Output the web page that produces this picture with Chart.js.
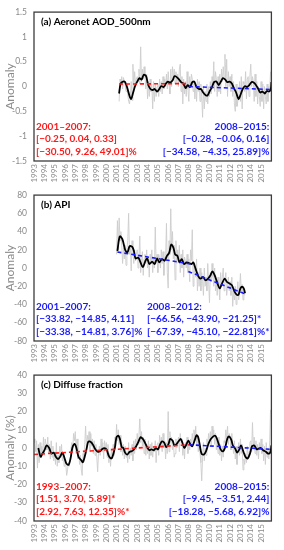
<!DOCTYPE html>
<html>
<head>
<meta charset="utf-8">
<script src="https://cdn.jsdelivr.net/npm/chart.js@4.4.1/dist/chart.umd.min.js"></script>
<style>
  html, body { margin: 0; padding: 0; background: #fff; }
  #wrap { position: relative; width: 284px; height: 550px; overflow: hidden; }
  canvas { position: absolute; left: 0; }
</style>
</head>
<body>
<div id="wrap">
  <canvas id="chartA" width="284" height="186" style="top:0"></canvas>
  <canvas id="chartB" width="284" height="183" style="top:183px"></canvas>
  <canvas id="chartC" width="284" height="183" style="top:363px"></canvas>
</div>
<script>
'use strict';

/* ---- data: (a) Aeronet AOD 500nm ---- */
const aRawStart = 2001.25; // monthly, Apr 2001 .. Dec 2015
const aRaw = [
  -0.30, 0.15, 0.05, 0.20, -0.05, 0.18, 0.10, 0.02, -0.10,
  0.05, -0.15, -0.30, -0.35, -0.20, 0.10, -0.28, 0.45, -0.05, 0.30, 0.05, 0.15,
  0.20, 0.10, 0.35, 0.05, 0.80, 0.10, 0.35, 0.15, 0.40, 0.20, -0.05, 0.25,
  -0.25, 0.10, -0.20, 0.15, -0.10, 0.05, -0.45, 0.10, -0.30, 0.05, -0.20, 0.00,
  0.05, -0.20, 0.15, -0.10, 0.10, -0.15, 0.20, -0.05, 0.15, 0.00, 0.25, -0.05,
  0.30, 0.05, -0.15, 0.35, 0.00, 0.40, 0.15, 0.35, 0.05, 0.30, 0.10, 0.25,
  0.00, 0.35, 0.45, -0.10, 0.20, -0.35, 0.15, -0.15, 0.10, -0.20, 0.30, -0.05,
  -0.30, 0.20, 0.00, 0.25, 0.15, -0.10, 0.10, -0.25, 0.05, -0.30, 0.15, -0.10,
  0.10, -0.30, 0.05, -0.20, -0.62, 0.00, -0.45, -0.10, -0.30, 0.05, -0.35, 0.00,
  -0.20, 0.10, -0.15, 0.20, 0.05, 0.50, -0.10, 0.30, 0.15, -0.20, 0.20, -0.10,
  0.25, -0.15, 0.35, 0.10, 0.40, 0.15, 0.65, 0.00, 0.55, -0.20, 0.30, 0.00,
  0.20, -0.10, 0.25, -0.20, 0.10, -0.35, -0.50, 0.05, -0.40, -0.30, -0.20, 0.10,
  -0.30, 0.20, -0.45, 0.10, 0.05, -0.10, 0.30, -0.25, 0.15, 0.20, -0.20, 0.20,
  0.45, 0.00, 0.20, 0.10, -0.30, 0.25, -0.20, 0.10, -0.35, 0.00, -0.20, -0.40,
  0.10, -0.30, 0.05, -0.45, 0.00, -0.20, -0.35, 0.05, -0.30, 0.00, -0.10, 0.30
];
const aSmoothX = [2001.24,2001.40,2001.63,2001.82,2002.04,2002.27,2002.42,2002.58,2002.78,2003.00,2003.22,2003.42,2003.64,2003.86,2004.05,2004.28,2004.50,2004.69,2004.92,2005.14,2005.33,2005.56,2005.78,2005.97,2006.19,2006.42,2006.61,2006.83,2007.06,2007.25,2007.47,2007.70,2007.89,2008.11,2008.34,2008.53,2008.75,2008.97,2009.17,2009.39,2009.61,2009.81,2010.03,2010.25,2010.44,2010.67,2010.89,2011.08,2011.31,2011.53,2011.72,2011.95,2012.17,2012.36,2012.58,2012.81,2013.00,2013.22,2013.45,2013.64,2013.86,2014.09,2014.28,2014.50,2014.73,2014.92,2015.14,2015.36,2015.56,2015.78,2015.94,2016.00];
const aSmoothY = [-0.14,0.06,0.10,0.09,-0.03,-0.20,-0.25,-0.14,0.00,0.10,0.17,0.14,0.24,0.21,0.04,-0.05,-0.07,-0.05,-0.10,-0.05,0.01,-0.01,0.06,0.10,0.08,0.12,0.21,0.19,0.14,0.09,0.06,-0.03,0.03,-0.01,0.09,0.10,-0.01,-0.05,-0.05,-0.12,-0.17,-0.18,-0.09,-0.01,0.09,0.10,0.03,0.09,0.17,0.14,0.09,0.10,0.06,-0.03,-0.12,-0.25,-0.17,-0.05,0.01,-0.01,0.03,0.09,0.08,0.03,-0.05,-0.12,-0.10,-0.14,-0.09,-0.10,-0.05,0.09];
const aTrend1X = [2001.24, 2008.0], aTrend1Y = [0.05, 0.06];
const aTrend2X = [2008.0, 2016.0], aTrend2Y = [0.00, -0.06];
const aTicks = [-1.5, -1, -0.5, 0, 0.5, 1, 1.5];

/* ---- data: (b) API ---- */
const bRawStart = 2001.0; // monthly, Jan 2001 .. Jun 2013
const bRaw = [
  15, 52, 20, 55, 30, 40, 25, 5, 22, 10, 25, 3,
  20, 30, 60, 15, 25, -3, 30, 18, 5, 20, 8, 15,
  20, 0, 12, 35, -5, 8, 18, -8, 10, 15, 5, 20,
  0, 12, -10, 15, 5, 20, -5, 10, 0, 45, 5, 15,
  -5, 15, 10, 0, 20, 5, 18, -8, 12, 10, 49, -5,
  -22, 30, 15, 65, 20, 40, 10, 25, -13, 30, 5, 20,
  10, 25, -5, 15, 0, 20, -10, 12, 8, 0, 15, -5,
  10, -15, 20, 8, 42, -20, 5, -5, -10, 10, -25, -5,
  -20, 0, -25, -5, -15, -30, 0, -20, -10, -25, 5, -15,
  -38, -5, -15, 5, -10, -20, 0, -25, -15, -30, -10, -20,
  -35, -5, -20, -10, 0, -25, -15, -5, -30, -20, -10, -25,
  -15, -30, -10, -42, -25, -35, -20, -40, -30, -15, -35, -25,
  -6, -25, -18, -35, -25, -30
];
const bSmoothX = [2001.08,2001.31,2001.56,2001.82,2002.04,2002.27,2002.52,2002.68,2002.84,2003.10,2003.32,2003.54,2003.80,2003.96,2004.18,2004.44,2004.69,2004.92,2005.14,2005.40,2005.65,2005.88,2006.10,2006.29,2006.51,2006.67,2006.90,2007.09,2007.31,2007.54,2007.79,2008.02,2008.27,2008.43,2008.66,2008.91,2009.13,2009.39,2009.61,2009.87,2010.09,2010.28,2010.51,2010.73,2010.99,2011.21,2011.47,2011.69,2011.95,2012.17,2012.43,2012.65,2012.81,2013.00,2013.16,2013.32,2013.45];
const bSmoothY = [18.7,34.7,31.8,20.4,16.9,24.0,23.3,18.7,10.5,11.5,6.2,0.9,8.0,10.5,4.4,6.9,4.4,10.5,6.2,9.8,8.0,13.3,16.9,25.8,22.2,15.1,13.3,6.2,9.8,4.4,6.2,5.5,4.4,6.2,-0.9,-8.8,-11.6,-9.8,-13.4,-11.6,-8.0,-3.8,-8.0,-15.2,-22.3,-17.0,-11.6,-15.2,-17.0,-18.7,-25.9,-29.4,-29.4,-22.3,-20.5,-22.3,-27.6];
const bTrend1X = [2001.08, 2008.2], bTrend1Y = [17.6, 4.4];
const bTrend2X = [2007.95, 2013.45], bTrend2Y = [-3.8, -28.3];
const bTicks = [-80, -60, -40, -20, 0, 20, 40, 60, 80];

/* ---- data: (c) Diffuse fraction ---- */
const cRawStart = 1993.0; // monthly, Jan 1993 .. Dec 2015
const cRaw = [
  5, 3, -2, 4, -11, 2, -8, 3, -5, 1, -3, 6,
  -4, 5, 2, -1, 6, -3, 2, -6, 4, -5, 1, -7,
  -2, -9, 3, -10, -4, -8, 1, -5, 2, -7, -3, -10,
  -6, -9, -15, -12, -8, -10, -5, 0, 3, -2, 8, 4,
  9, -3, 5, -6, -2, -9, -4, -12, -15, -3, -6, 2,
  12, 0, 7, 3, 9, -2, 8, 1, 5, -3, 4, -4,
  2, -5, -13, -3, 1, -4, 5, -2, 3, -6, 4, -1,
  3, -5, 2, -8, -3, -10, -1, -6, 2, -4, 6, 1,
  13, 4, 10, 2, 7, -2, 3, -4, 2, -6, 1, -5,
  -2, -8, 3, -6, 0, -4, 2, -7, 4, -3, 5, -1,
  8, 2, 7, 16, 3, 9, 1, 6, -3, 5, -4, 2,
  -3, 4, -6, 2, -4, 3, -5, 1, -2, 4, -8, 2,
  3, -4, 7, 1, 6, -2, 8, 0, 4, -6, 3, -3,
  20, -2, 9, 3, 6, -1, 4, -5, -3, 5, 0, 3,
  6, -2, 8, 3, 5, -4, 2, -6, 3, 1, 6, -3,
  4, -1, 5, 2, 8, 3, 10, 4, 12, 2, 6, -2,
  2, -3, -8, -18, -5, 3, -7, 0, -4, 5, 2, 8,
  3, 9, 1, 12, 6, 10, 2, 8, -1, 4, -3, 6,
  -4, 2, -7, 1, -5, 4, 3, 10, 5, 12, 2, 8,
  6, -1, 8, 2, -3, 4, -6, 1, -9, -2, 3, -4,
  5, -3, 2, -12, -6, -9, -3, -8, 1, -5, -2, 3,
  4, -2, 14, 0, 6, -3, 4, -4, 2, -6, 3, -1,
  5, -3, 2, -7, 1, -9, 3, -5, 0, -6, 4, 21
];
const cSmoothX = [1993.42,1993.64,1993.83,1994.05,1994.21,1994.47,1994.69,1994.92,1995.11,1995.33,1995.56,1995.75,1995.97,1996.13,1996.35,1996.55,1996.71,1996.93,1997.09,1997.31,1997.57,1997.73,1997.95,1998.11,1998.27,1998.53,1998.75,1998.94,1999.17,1999.39,1999.58,1999.81,2000.03,2000.22,2000.44,2000.60,2000.83,2000.99,2001.18,2001.34,2001.50,2001.66,2001.82,2002.04,2002.27,2002.46,2002.68,2002.90,2003.10,2003.32,2003.54,2003.73,2003.96,2004.18,2004.37,2004.60,2004.82,2005.01,2005.24,2005.40,2005.62,2005.81,2006.04,2006.19,2006.42,2006.61,2006.83,2006.99,2007.22,2007.41,2007.57,2007.79,2007.95,2008.18,2008.34,2008.59,2008.75,2008.91,2009.07,2009.23,2009.45,2009.65,2009.87,2010.09,2010.28,2010.51,2010.67,2010.89,2011.08,2011.31,2011.53,2011.72,2011.88,2012.11,2012.27,2012.49,2012.68,2012.90,2013.06,2013.29,2013.48,2013.70,2013.93,2014.12,2014.34,2014.57,2014.76,2014.98,2015.20,2015.46,2015.68,2015.88,2016.00];
const cSmoothY = [0,-4.8,-3,-0.7,1.4,0,-3,-2.5,-4.8,-6,-4.5,-2.5,-5.7,-8.4,-9.2,-5.5,0,2.3,0.5,-4.8,-6.6,-7.8,-4,0,3.6,3.2,1.4,-0.7,-2,-1.8,-0.7,0,-0.7,-4,-5.7,-4.8,0,5.9,6.8,4.6,0.5,0,-2.5,-3.6,-2,-1.8,-0.7,1,3.2,5.9,5,3.2,0.5,-1.2,-0.7,-1.2,0,-0.7,2.3,3.6,2.9,0.5,2.3,5,4.1,1.4,2.3,3.6,5,2.3,0,2.3,4.1,1.8,1,4.6,7,5.9,1.4,-3,-3.6,-2,1.8,4.6,5.9,6.8,5.9,2.3,-0.7,-1.8,0.5,5,6.4,4.6,1.4,-0.3,-2.5,-0.7,1.4,-2,-4.8,-5.7,-3,1,1.4,-0.7,-0.3,0,-1.2,-2,-3,-2.5,1.4];
const cTrend1X = [1993.0, 2008.0], cTrend1Y = [-3.5, 1.8];
const cTrend2X = [2008.0, 2016.0], cTrend2Y = [1.8, -0.7];
const cTicks = [-40, -30, -20, -10, 0, 10, 20, 30, 40];

const yearFirst = 1993, yearLast = 2016;

/* ---- styles ---- */
const RED = '#ff1a1a';
const BLUE = '#1a1aff';
const GREY_LINE = '#cdcdcd';
const AXIS_GREY = '#8a8a8a';
const FONT = "Lato, 'Open Sans', sans-serif";

function monthly(start, vals) {
  return vals.map((v, i) => ({ x: start + i / 12, y: v }));
}
function pairs(xs, ys) {
  const n = Math.min(xs.length, ys.length);
  const out = [];
  for (let i = 0; i < n; i++) out.push({ x: xs[i], y: ys[i] });
  return out;
}

/* frame box, panel title and the trend notes */
const framePlugin = {
  id: 'frame',
  afterDraw(chart, args, opts) {
    const { ctx, chartArea: a } = chart;
    ctx.save();
    ctx.strokeStyle = '#3c3c3c';
    ctx.lineWidth = 1.3;
    ctx.strokeRect(a.left, a.top, a.right - a.left, a.bottom - a.top);

    ctx.textBaseline = 'middle';
    ctx.font = 'bold 10px ' + FONT;
    ctx.fillStyle = '#000';
    ctx.textAlign = 'left';
    ctx.fillText(opts.title, a.left + 7, a.top + 10);

    const lh = 12.5;
    (opts.notes || []).forEach(n => {
      ctx.fillStyle = n.color;
      const last = a.bottom - 9.5;
      let x, align = n.align;
      if (align === 'left') x = a.left + 2;
      else if (align === 'right') x = a.right - 2;
      else { // block: right edge at frame, lines left-aligned
        const w = Math.max(...n.lines.map(t => ctx.measureText(t).width));
        x = a.right - 2 - w;
        align = 'left';
      }
      ctx.textAlign = align;
      n.lines.forEach((t, i) => {
        ctx.fillText(t, x, last - (n.lines.length - 1 - i) * lh);
      });
    });
    ctx.restore();
  }
};

function makeChart(id, cfg) {
  const ctx = document.getElementById(id).getContext('2d');
  return new Chart(ctx, {
    type: 'line',
    data: {
      datasets: [
        { data: pairs(cfg.t1x, cfg.t1y), borderColor: cfg.t1c, borderWidth: 1.6, borderDash: [4, 3], order: 0 },
        { data: pairs(cfg.t2x, cfg.t2y), borderColor: cfg.t2c, borderWidth: 1.6, borderDash: [4, 3], order: 0 },
        { data: pairs(cfg.sx, cfg.sy), borderColor: '#000', borderWidth: 1.8, tension: 0.3, order: 1 },
        { data: monthly(cfg.rawStart, cfg.raw), borderColor: GREY_LINE, borderWidth: 0.9, tension: 0, order: 2 },
      ],
    },
    options: {
      responsive: false,
      animation: false,
      events: [],
      layout: { padding: { top: 8, right: 10, left: 0, bottom: 0 } },
      elements: { point: { radius: 0 }, line: { fill: false } },
      plugins: {
        legend: { display: false },
        tooltip: { enabled: false },
        frame: { title: cfg.title, notes: cfg.notes },
      },
      scales: {
        x: {
          type: 'linear',
          min: yearFirst,
          max: yearLast,
          grid: { display: false, drawTicks: false },
          border: { display: false },
          afterFit: s => { s.height = 25; },
          ticks: {
            stepSize: 1,
            autoSkip: false,
            minRotation: 90,
            maxRotation: 90,
            padding: 3,
            color: AXIS_GREY,
            font: { family: FONT, size: 8 },
            callback: v => (v < yearLast ? String(v) : ''),
          },
        },
        y: {
          min: cfg.ticks[0],
          max: cfg.ticks[cfg.ticks.length - 1],
          grid: { display: false, drawTicks: false },
          border: { display: false },
          afterFit: s => { s.width = 34; },
          afterBuildTicks: s => { s.ticks = cfg.ticks.map(v => ({ value: v })); },
          title: {
            display: true,
            text: cfg.yTitle,
            color: AXIS_GREY,
            font: { family: FONT, size: 12 },
            padding: { top: 3, bottom: 0 },
          },
          ticks: {
            padding: 7,
            color: AXIS_GREY,
            font: { family: FONT, size: 8.5 },
            callback: v => String(v),
          },
        },
      },
    },
    plugins: [framePlugin],
  });
}

makeChart('chartA', {
  title: '(a) Aeronet AOD_500nm',
  yTitle: 'Anomaly',
  ticks: aTicks,
  raw: aRaw, rawStart: aRawStart,
  sx: aSmoothX, sy: aSmoothY,
  t1x: aTrend1X, t1y: aTrend1Y, t1c: RED,
  t2x: aTrend2X, t2y: aTrend2Y, t2c: BLUE,
  notes: [
    { color: RED, align: 'left', lines: ['2001\u20132007:', '[\u22120.25, 0.04, 0.33]', '[\u221230.50, 9.26, 49.01]%'] },
    { color: BLUE, align: 'right', lines: ['2008\u20132015:', '[\u22120.28, \u22120.06, 0.16]', '[\u221234.58, \u22124.35, 25.89]%'] },
  ],
});

makeChart('chartB', {
  title: '(b) API',
  yTitle: 'Anomaly',
  ticks: bTicks,
  raw: bRaw, rawStart: bRawStart,
  sx: bSmoothX, sy: bSmoothY,
  t1x: bTrend1X, t1y: bTrend1Y, t1c: BLUE,
  t2x: bTrend2X, t2y: bTrend2Y, t2c: BLUE,
  notes: [
    { color: BLUE, align: 'left', lines: ['2001\u20132007:', '[\u221233.82, \u221214.85, 4.11]', '[\u221233.38, \u221214.81, 3.76]%'] },
    { color: BLUE, align: 'block', lines: ['2008\u20132012:', '[\u221266.56, \u221243.90, \u221221.25]*', '[\u221267.39, \u221245.10, \u221222.81]%*'] },
  ],
});

makeChart('chartC', {
  title: '(c) Diffuse fraction',
  yTitle: 'Anomaly (%)',
  ticks: cTicks,
  raw: cRaw, rawStart: cRawStart,
  sx: cSmoothX, sy: cSmoothY,
  t1x: cTrend1X, t1y: cTrend1Y, t1c: RED,
  t2x: cTrend2X, t2y: cTrend2Y, t2c: BLUE,
  notes: [
    { color: RED, align: 'left', lines: ['1993\u20132007:', '[1.51, 3.70, 5.89]*', '[2.92, 7.63, 12.35]%*'] },
    { color: BLUE, align: 'right', lines: ['2008\u20132015:', '[\u22129.45, \u22123.51, 2.44]', '[\u221218.28, \u22125.68, 6.92]%'] },
  ],
});
</script>
</body>
</html>
